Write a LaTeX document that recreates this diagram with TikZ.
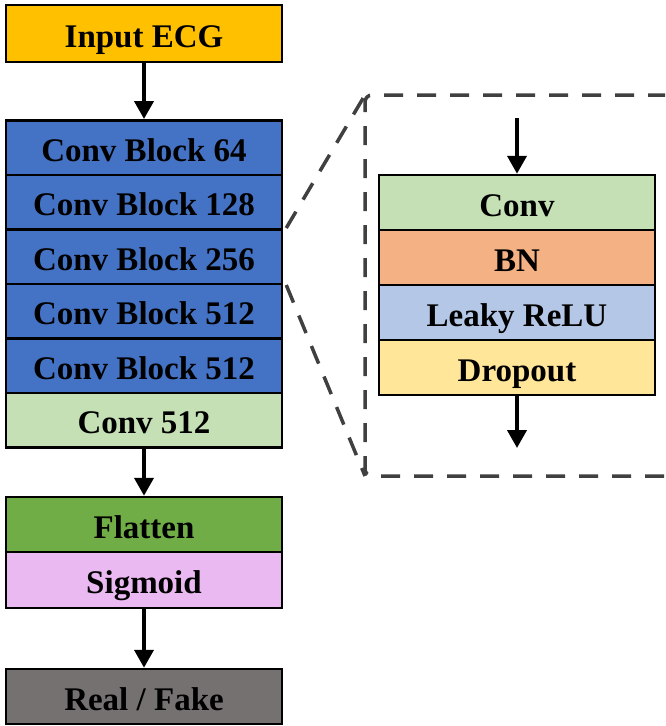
\documentclass[tikz,border=0pt]{standalone}
\usepackage{fontspec}
\setmainfont{Liberation Serif}
\usetikzlibrary{arrows.meta}
\definecolor{cinput}{HTML}{FFC000}
\definecolor{cblock}{HTML}{4472C4}
\definecolor{cconv}{HTML}{C5E0B4}
\definecolor{cflat}{HTML}{70AD47}
\definecolor{csig}{HTML}{EBB9F2}
\definecolor{cout}{HTML}{767171}
\definecolor{cbn}{HTML}{F4B183}
\definecolor{crelu}{HTML}{B4C7E7}
\definecolor{cdrop}{HTML}{FFE699}
\definecolor{cdash}{HTML}{404040}
\tikzset{
  layer/.style={draw=black, line width=2.5pt, minimum width=276pt, minimum height=54.5pt,
    inner sep=0pt, text height=30pt, text depth=3pt,
    font=\fontsize{33}{40}\selectfont\bfseries, text=black},
  flow/.style={line width=4pt, -{Triangle[width=19pt,length=18pt]}},
  zoomline/.style={draw=cdash, line width=3.5pt, dash pattern=on 19pt off 14pt}
}
\begin{document}
\begin{tikzpicture}[x=1pt,y=-1pt]
\clip (0,0) rectangle (665,726);
\fill[white] (0,0) rectangle (665,726);
% main column
\node[layer, fill=cinput, minimum height=57pt] (in) at (144,33.5) {Input ECG};
\node[layer, fill=cblock] (b64) at (144,147.5) {Conv Block 64};
\node[layer, fill=cblock] (b128) at (144,202) {Conv Block 128};
\node[layer, fill=cblock] (b256) at (144,256.5) {Conv Block 256};
\node[layer, fill=cblock] (b512a) at (144,311) {Conv Block 512};
\node[layer, fill=cblock] (b512b) at (144,365.5) {Conv Block 512};
\node[layer, fill=cconv] (c512) at (144,420) {Conv 512};
\node[layer, fill=cflat, minimum height=55pt] (flat) at (144,524.5) {Flatten};
\node[layer, fill=csig, minimum height=56pt] (sig) at (144,580) {Sigmoid};
\node[layer, fill=cout, minimum height=55pt] (out) at (144,696.5) {Real / Fake};
\draw[flow] (in.south) -- (b64.north);
\draw[flow] (c512.south) -- (flat.north);
\draw[flow] (sig.south) -- (out.north);
% detail panel
\node[layer, fill=cconv, minimum height=55pt] (conv) at (517,202.5) {Conv};
\node[layer, fill=cbn, minimum height=55pt] (bn) at (517,257.5) {BN};
\node[layer, fill=crelu, minimum height=55pt] (relu) at (517,312.5) {Leaky ReLU};
\node[layer, fill=cdrop, minimum height=55pt] (drop) at (517,367.5) {Dropout};
\coordinate (tin) at (517,118);
\coordinate (tout) at (517,448);
\draw[flow] (tin) -- (conv.north);
\draw[flow] (drop.south) -- (tout);
% dashed zoom box
\coordinate (tl) at (365,95);
\coordinate (bl) at (365,476);
\coordinate (tr) at (700,95);
\coordinate (br) at (700,476);
\draw[zoomline, rounded corners=7pt] (tr) -- (tl) -- (bl) -- (br);
\draw[zoomline] ([xshift=3pt]b256.north east) -- (tl);
\draw[zoomline] ([xshift=3pt]b256.south east) -- (bl);
\end{tikzpicture}
\end{document}
